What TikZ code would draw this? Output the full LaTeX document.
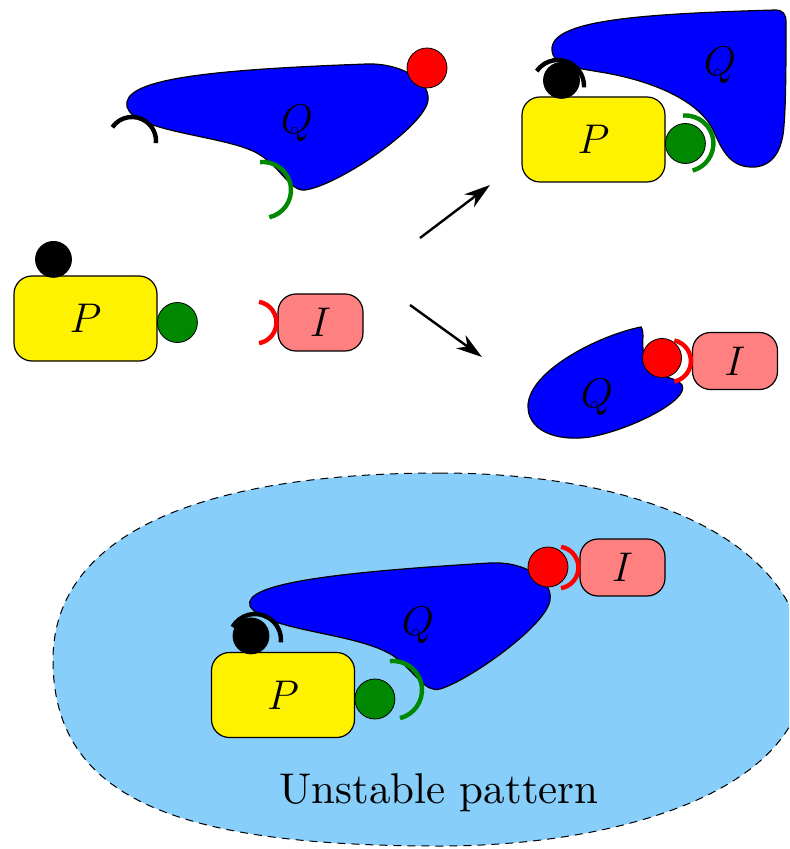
\documentclass[tikz,border=0pt]{standalone}
\usepackage{amsmath}
\usepackage{graphicx}
\usepackage{xcolor}
\usepackage{tikz}
\usetikzlibrary{calc, arrows.meta, positioning}
\definecolor{skyfill}{RGB}{135,206,250}
\definecolor{sitegreen}{RGB}{0,136,0}
\definecolor{salmon}{RGB}{255,128,128}
\tikzset{
  pbox/.style={rectangle,rounded corners=9pt,draw,fill=yellow,semithick,minimum width=71.5pt,minimum height=42.5pt,font=\huge},
  ibox/.style={rectangle,rounded corners=9pt,draw,fill=salmon,semithick,minimum width=42.5pt,minimum height=28.5pt,font=\huge},
  blackball/.style={circle,draw,fill=black,inner sep=0pt,minimum size=18pt},
  greenball/.style={circle,draw,fill=sitegreen,inner sep=0pt,minimum size=20pt},
  redball/.style={circle,draw,fill=red,inner sep=0pt,minimum size=20pt},
  qbody/.style={draw,fill=blue,semithick},
  sitearc/.style={line width=2.2pt},
  bindarrow/.style={-{Stealth[length=13pt,width=8pt,inset=4pt]}, line width=1.2pt}
}

\begin{document}
\begin{tikzpicture}[x=0.5pt,y=-0.5pt]
  \useasboundingbox (0,0) rectangle (789,849);
  \clip (0,0) rectangle (789,849);
  % unstable pattern
  \draw[dash pattern=on 4pt off 3pt,line width=0.5pt,fill=skyfill] (440,473)
    .. controls (640,473) and (805,540) .. (805,670)
    .. controls (805,790) and (620,846) .. (440,846)
    .. controls (180,846) and (53,800) .. (53,660)
    .. controls (53,530) and (210,473) .. (440,473) -- cycle;
  \node[anchor=base] (lab) at (439,803) {\scalebox{2.15}{Unstable pattern}};

  % free P, Q and I
  \draw[qbody] (127,107)
    .. controls (121,80) and (200,70) .. (367,64)
    .. controls (400,63) and (430,80) .. (428,100)
    .. controls (426,125) and (340,185) .. (305,190)
    .. controls (290,192) and (280,165) .. (255,152)
    .. controls (220,135) and (135,132) .. (127,107) -- cycle;
  \node[font=\huge] (Q1) at (297,123) {$Q$};
  \node[redball] (Qr1) at (427,68) {};
  \draw[sitearc] ($(132,141)+(-145:24)$) arc[start angle=-145,end angle=5,radius=24];
  \draw[sitearc,sitegreen] ($(263,190)+(-96:28)$) arc[start angle=-96,end angle=77,radius=28];

  \node[pbox] (P1) at (85.5,318.5) {$P$};
  \node[blackball, above=-1.2pt of P1.north, xshift=-16pt] (Pb1) {};
  \node[greenball, right=-0.3pt of P1, yshift=-2pt] (Pg1) {};

  \node[ibox] (I1) at (320.5,322.5) {$I$};
  \draw[sitearc,red] ($(I1.west)+(-22,0)+(-80:21)$) arc[start angle=-80,end angle=80,radius=21];

  % P binds Q
  \draw[qbody] (552,50)
    .. controls (550,20) and (640,14) .. (775,10)
    .. controls (783,10) and (786,14) .. (786,22)
    .. controls (786,60) and (786,100) .. (784,125)
    .. controls (782,160) and (765,168) .. (750,167)
    .. controls (730,166) and (722,150) .. (714,132)
    .. controls (700,100) and (650,80) .. (600,72)
    .. controls (570,67) and (553,65) .. (552,50) -- cycle;
  \node[font=\huge] (Q2) at (720,65) {$Q$};
  \node[pbox] (P2) at (593.5,139.5) {$P$};
  \node[blackball, above=-1.2pt of P2.north, xshift=-16pt] (Pb2) {};
  \node[greenball, right=-0.3pt of P2, yshift=-2pt] (Pg2) {};
  \draw[sitearc] ($(558,86)+(-145:26)$) arc[start angle=-145,end angle=3,radius=26];
  \draw[sitearc,sitegreen] ($(Pg2)+(-95:28)$) arc[start angle=-95,end angle=75,radius=28];

  % I binds Q
  \draw[qbody] (641,327)
    .. controls (600,335) and (530,370) .. (528,405)
    .. controls (527,430) and (555,442) .. (590,437)
    .. controls (630,430) and (690,400) .. (682,385)
    .. controls (676,375) and (650,380) .. (644,355)
    .. controls (641,343) and (645,333) .. (641,327) -- cycle;
  \node[font=\huge] (Q3) at (597,397) {$Q$};
  \node[redball, minimum size=19.5pt] (Qr3) at (662,358) {};
  \node[ibox] (I3) at (735,361) {$I$};
  \draw[sitearc,red] ($(I3.west)+(-22,0)+(-78:21)$) arc[start angle=-78,end angle=78,radius=21];

  % all three together
  \draw[qbody] (250,606)
    .. controls (242,583) and (340,572) .. (490,563)
    .. controls (525,561) and (553,580) .. (550,600)
    .. controls (547,625) and (470,680) .. (440,689)
    .. controls (425,693) and (415,672) .. (395,657)
    .. controls (360,632) and (265,632) .. (250,606) -- cycle;
  \node[font=\huge] (Q4) at (418,625) {$Q$};
  \node[redball] (Qr4) at (548,567) {};
  \node[ibox] (I4) at (622.5,567.5) {$I$};
  \draw[sitearc,red] ($(I4.west)+(-22,0)+(-80:21)$) arc[start angle=-80,end angle=80,radius=21];
  \node[pbox] (P4) at (283,695) {$P$};
  \node[blackball, above=-1.2pt of P4.north, xshift=-16pt] (Pb4) {};
  \node[greenball, right=-0.3pt of P4, yshift=-2pt] (Pg4) {};
  \draw[sitearc] ($(255,640)+(-150:26)$) arc[start angle=-150,end angle=5,radius=26];
  \draw[sitearc,sitegreen] ($(393,690)+(-96:29)$) arc[start angle=-96,end angle=76,radius=29];

  % reactions
  \coordinate (up0) at (420,238);
  \coordinate (up1) at (490,185);
  \coordinate (dn0) at (410,305);
  \coordinate (dn1) at (482,357);
  \draw[bindarrow] (up0) -- (up1);
  \draw[bindarrow] (dn0) -- (dn1);
\end{tikzpicture}
\end{document}
